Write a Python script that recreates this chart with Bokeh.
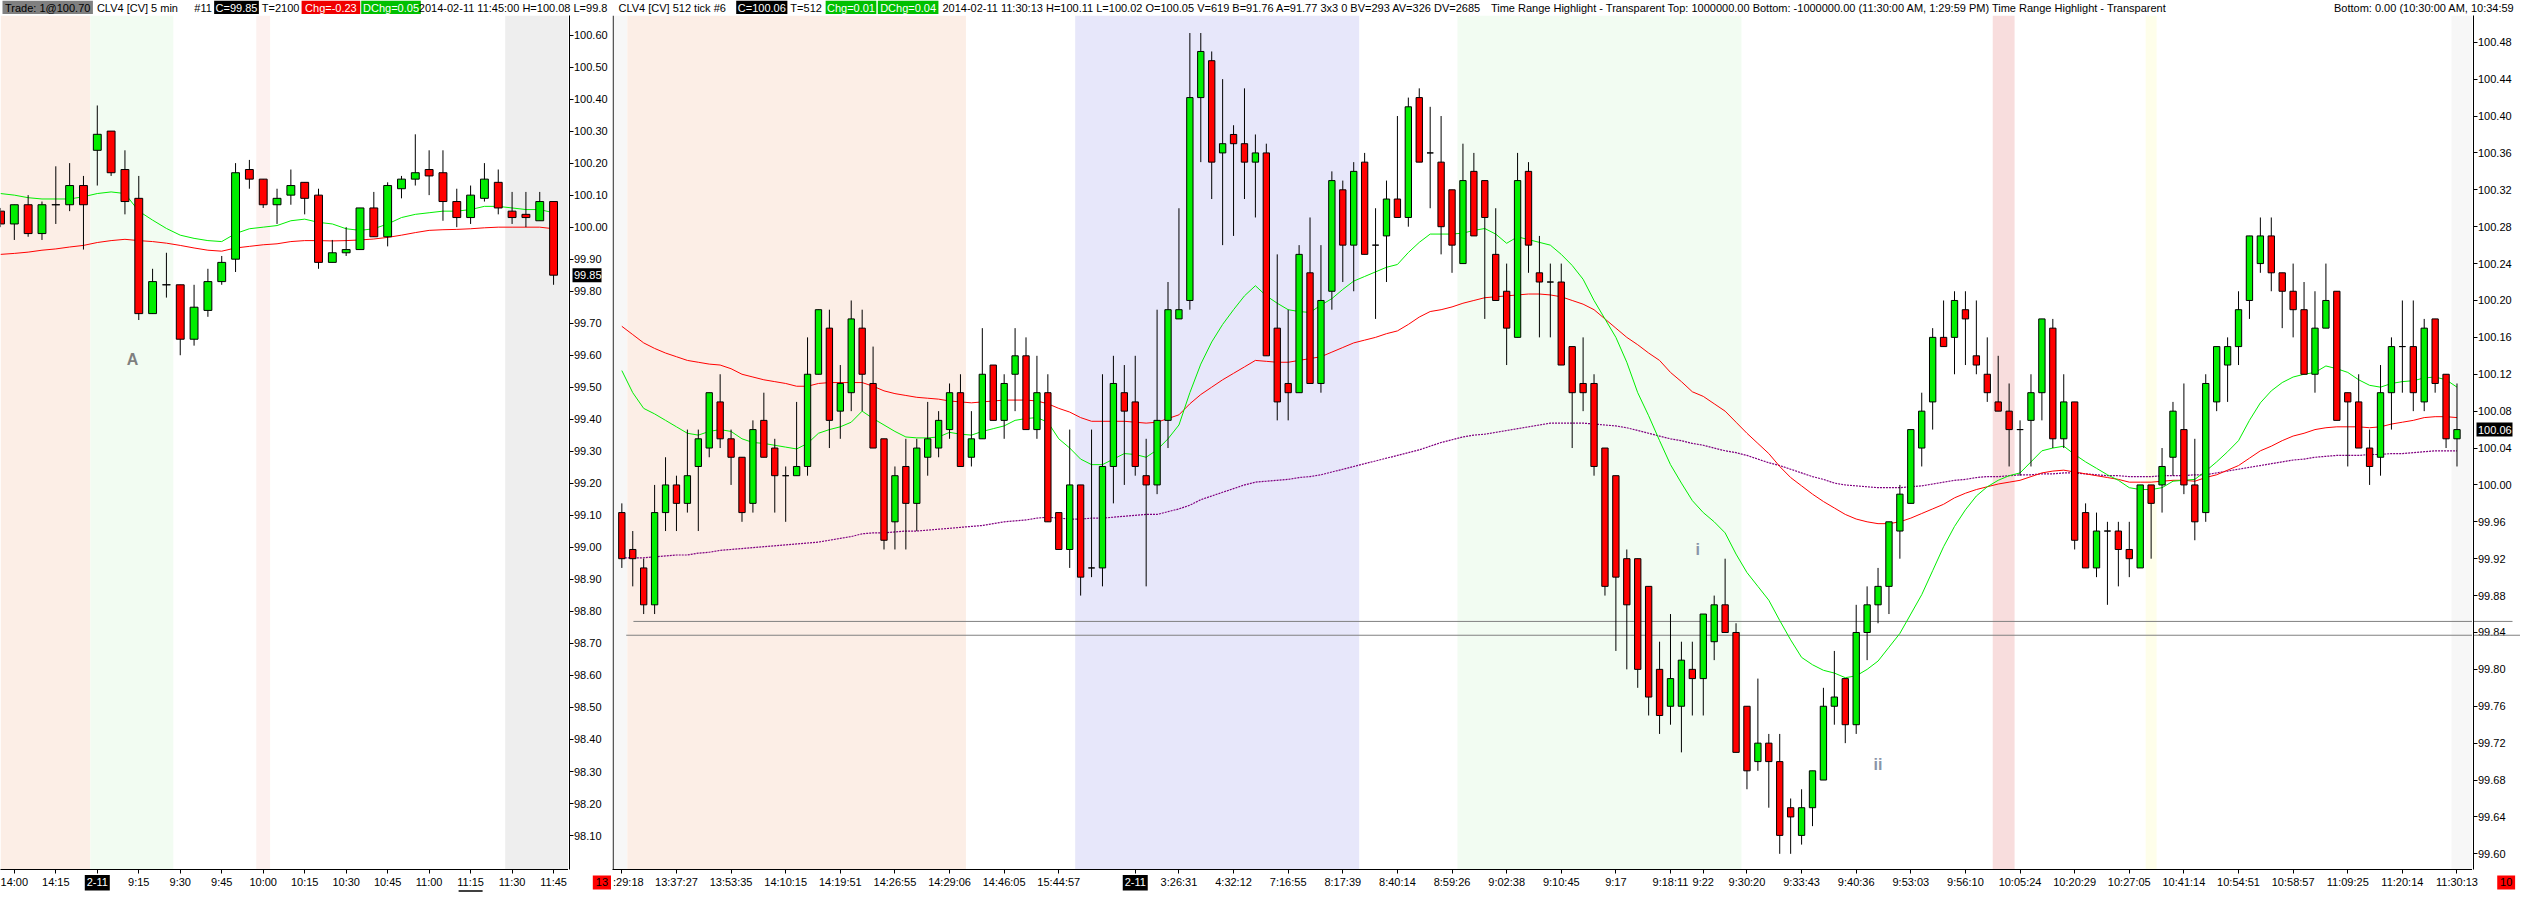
from bokeh.plotting import figure
from bokeh.models import (Range1d, FixedTicker, Span, BoxAnnotation, ColumnDataSource)
from bokeh.layouts import row, column
from bokeh.embed import file_html
from bokeh.resources import INLINE
from bokeh.core.properties import value

# ------------------------------------------------------------------ data
# Left panel: CLV4 [CV] 5 min  (bar index 1..41)
left_open = [100.05, 100.01, 100.07, 99.98, 100.07, 100.07, 100.13, 100.24, 100.30, 100.18,
             100.09, 99.73, 99.82, 99.82, 99.65, 99.74, 99.83, 99.90, 100.18, 100.15,
             100.07, 100.10, 100.14, 100.10, 99.89, 99.92, 99.93, 100.06, 99.97, 100.12,
             100.15, 100.18, 100.17, 100.08, 100.03, 100.09, 100.14, 100.05, 100.04, 100.02, 100.08]
left_high = [100.06, 100.07, 100.10, 100.08, 100.19, 100.20, 100.16, 100.38, 100.30, 100.24,
             100.16, 99.87, 99.92, 99.82, 99.82, 99.87, 99.91, 100.20, 100.21, 100.15,
             100.12, 100.18, 100.14, 100.12, 99.96, 100.00, 100.06, 100.11, 100.14, 100.16,
             100.29, 100.24, 100.24, 100.12, 100.13, 100.20, 100.18, 100.11, 100.11, 100.11, 100.08]
left_low = [100.00, 99.96, 99.97, 99.96, 100.01, 100.05, 99.93, 100.13, 100.16, 100.04,
            99.71, 99.73, 99.78, 99.60, 99.63, 99.72, 99.82, 99.86, 100.12, 100.06,
            100.01, 100.07, 100.04, 99.87, 99.89, 99.91, 99.93, 99.97, 99.94, 100.09,
            100.13, 100.10, 100.02, 100.00, 100.01, 100.08, 100.04, 100.01, 100.00, 100.02, 99.82]
left_close = [100.01, 100.07, 99.98, 100.07, 100.07, 100.13, 100.07, 100.29, 100.17, 100.08,
              99.73, 99.83, 99.82, 99.65, 99.75, 99.83, 99.89, 100.17, 100.15, 100.07,
              100.09, 100.13, 100.09, 99.89, 99.92, 99.93, 100.06, 99.97, 100.13, 100.15,
              100.17, 100.16, 100.08, 100.03, 100.10, 100.15, 100.06, 100.03, 100.03, 100.08, 99.85]
left_ma_fast = [100.105, 100.100, 100.092, 100.088, 100.088, 100.088, 100.095, 100.105, 100.110, 100.105,
                100.050, 100.022, 99.996, 99.975, 99.965, 99.958, 99.955, 99.980, 99.995, 100.000,
                100.005, 100.020, 100.025, 100.015, 100.010, 99.995, 99.990, 99.995, 100.010, 100.030,
                100.040, 100.045, 100.050, 100.050, 100.055, 100.065, 100.065, 100.060, 100.055, 100.055, 100.045]
left_ma_slow = [99.915, 99.918, 99.922, 99.928, 99.932, 99.938, 99.943, 99.952, 99.958, 99.962,
                99.958, 99.955, 99.950, 99.943, 99.935, 99.928, 99.925, 99.935, 99.940, 99.945,
                99.948, 99.955, 99.958, 99.958, 99.957, 99.958, 99.960, 99.963, 99.968, 99.975,
                99.983, 99.990, 99.992, 99.993, 99.995, 99.998, 100.000, 100.000, 100.000, 100.000, 99.995]
left_tick_idx = [2, 5, 11, 14, 17, 20, 23, 26, 29, 32, 35, 38, 41]
left_tick_lbl = ["14:00", "14:15", "9:15", "9:30", "9:45", "10:00", "10:15", "10:30",
                 "10:45", "11:00", "11:15", "11:30", "11:45"]
left_underlined_idx = 35
left_session_idx = 8
left_session_lbl = "2-11"
left_yticks = [98.10, 98.20, 98.30, 98.40, 98.50, 98.60, 98.70, 98.80, 98.90, 99.00,
               99.10, 99.20, 99.30, 99.40, 99.50, 99.60, 99.70, 99.80, 99.90, 100.00,
               100.10, 100.20, 100.30, 100.40, 100.50, 100.60]
left_band_start = [1.0, 7.5, 19.5, 37.5]
left_band_end = [7.5, 13.5, 20.5, 42.1]
left_band_color = ["#FCEEE6", "#F2FCF2", "#FDF1EF", "#EEEEEE"]
left_note_x = [10.55]
left_note_y = [99.588]
left_note_txt = ["A"]

# Right panel: CLV4 [CV] 512 tick  (bar index 1..169)
right_open = [
    99.97, 99.93, 99.91, 99.87, 99.97, 100.00, 99.98, 100.02, 100.04, 100.09,
    100.05, 100.03, 99.98, 100.07, 100.04, 100.01, 100.01, 100.02, 100.12, 100.17,
    100.08, 100.10, 100.17, 100.11, 100.05, 99.96, 100.02, 99.98, 100.03, 100.04,
    100.06, 100.10, 100.03, 100.05, 100.13, 100.07, 100.12, 100.14, 100.06, 100.10,
    99.97, 99.93, 100.00, 99.91, 99.91, 100.02, 100.10, 100.09, 100.01, 100.00,
    100.07, 100.18, 100.20, 100.42, 100.46, 100.36, 100.38, 100.37, 100.35, 100.36,
    100.17, 100.11, 100.10, 100.23, 100.11, 100.21, 100.32, 100.26, 100.35, 100.26,
    100.27, 100.31, 100.29, 100.42, 100.36, 100.35, 100.32, 100.24, 100.34, 100.33,
    100.25, 100.21, 100.16, 100.34, 100.23, 100.22, 100.22, 100.15, 100.11, 100.11,
    100.04, 100.01, 99.92, 99.92, 99.89, 99.80, 99.76, 99.76, 99.80, 99.79,
    99.83, 99.87, 99.84, 99.76, 99.70, 99.72, 99.70, 99.65, 99.62, 99.65,
    99.68, 99.76, 99.79, 99.74, 99.84, 99.87, 99.89, 99.95, 99.98, 100.04,
    100.09, 100.16, 100.16, 100.19, 100.14, 100.12, 100.09, 100.08, 100.06, 100.07,
    100.10, 100.17, 100.05, 100.09, 99.97, 99.91, 99.95, 99.95, 99.93, 99.91,
    100.00, 100.00, 100.03, 100.06, 100.00, 99.97, 100.09, 100.13, 100.15, 100.20,
    100.24, 100.27, 100.23, 100.21, 100.19, 100.12, 100.17, 100.21, 100.10, 100.09,
    100.04, 100.03, 100.10, 100.15, 100.15, 100.09, 100.18, 100.12, 100.05]
right_high = [
    99.98, 99.95, 99.92, 100.00, 100.03, 100.01, 100.06, 100.06, 100.10, 100.12,
    100.06, 100.03, 100.07, 100.10, 100.05, 100.02, 100.09, 100.16, 100.19, 100.19,
    100.13, 100.20, 100.19, 100.15, 100.05, 100.02, 100.05, 100.05, 100.09, 100.08,
    100.11, 100.12, 100.08, 100.17, 100.13, 100.12, 100.17, 100.16, 100.14, 100.12,
    99.97, 100.06, 100.00, 100.06, 100.12, 100.14, 100.13, 100.14, 100.05, 100.19,
    100.22, 100.30, 100.49, 100.49, 100.47, 100.44, 100.39, 100.43, 100.38, 100.37,
    100.25, 100.19, 100.26, 100.29, 100.26, 100.34, 100.33, 100.35, 100.36, 100.30,
    100.33, 100.40, 100.42, 100.43, 100.41, 100.40, 100.32, 100.37, 100.36, 100.33,
    100.30, 100.24, 100.36, 100.35, 100.27, 100.24, 100.24, 100.15, 100.16, 100.12,
    100.04, 100.01, 99.93, 99.92, 99.89, 99.83, 99.86, 99.83, 99.83, 99.86,
    99.88, 99.92, 99.85, 99.76, 99.79, 99.73, 99.73, 99.66, 99.67, 99.69,
    99.78, 99.82, 99.79, 99.87, 99.89, 99.91, 99.96, 100.00, 100.06, 100.10,
    100.17, 100.20, 100.21, 100.21, 100.20, 100.16, 100.14, 100.11, 100.07, 100.12,
    100.18, 100.18, 100.12, 100.09, 99.98, 99.97, 99.96, 99.96, 99.96, 100.00,
    100.00, 100.04, 100.09, 100.11, 100.05, 100.12, 100.15, 100.16, 100.21, 100.27,
    100.29, 100.29, 100.23, 100.24, 100.22, 100.21, 100.24, 100.21, 100.10, 100.12,
    100.06, 100.13, 100.16, 100.20, 100.20, 100.18, 100.18, 100.12, 100.11]
right_low = [
    99.91, 99.89, 99.86, 99.86, 99.95, 99.95, 99.97, 99.95, 100.03, 100.04,
    100.00, 99.96, 99.97, 100.03, 99.97, 99.96, 100.01, 100.01, 100.12, 100.04,
    100.05, 100.08, 100.08, 100.04, 99.93, 99.93, 99.93, 99.95, 100.01, 100.03,
    100.05, 100.02, 100.02, 100.05, 100.07, 100.05, 100.08, 100.06, 100.05, 99.96,
    99.93, 99.91, 99.88, 99.90, 99.89, 99.98, 100.00, 100.01, 99.89, 99.99,
    100.04, 100.18, 100.19, 100.35, 100.31, 100.26, 100.27, 100.31, 100.29, 100.14,
    100.07, 100.07, 100.10, 100.11, 100.10, 100.19, 100.22, 100.21, 100.25, 100.18,
    100.22, 100.29, 100.28, 100.35, 100.30, 100.25, 100.23, 100.24, 100.27, 100.18,
    100.20, 100.13, 100.16, 100.23, 100.16, 100.16, 100.13, 100.04, 100.08, 100.01,
    99.88, 99.82, 99.80, 99.78, 99.75, 99.73, 99.74, 99.71, 99.75, 99.75,
    99.81, 99.84, 99.71, 99.67, 99.69, 99.65, 99.60, 99.60, 99.61, 99.63,
    99.68, 99.74, 99.72, 99.73, 99.81, 99.85, 99.86, 99.92, 99.98, 100.02,
    100.06, 100.15, 100.12, 100.13, 100.12, 100.09, 100.08, 100.02, 100.01, 100.02,
    100.07, 100.04, 100.04, 99.93, 99.91, 99.90, 99.87, 99.89, 99.90, 99.91,
    99.92, 99.97, 100.01, 99.99, 99.94, 99.96, 100.08, 100.09, 100.13, 100.18,
    100.23, 100.21, 100.17, 100.16, 100.12, 100.10, 100.17, 100.07, 100.02, 100.04,
    100.00, 100.01, 100.06, 100.10, 100.08, 100.08, 100.10, 100.04, 100.02]
right_close = [
    99.92, 99.92, 99.87, 99.97, 100.00, 99.98, 100.01, 100.05, 100.10, 100.05,
    100.03, 99.97, 100.06, 100.03, 100.01, 100.01, 100.02, 100.12, 100.19, 100.07,
    100.11, 100.18, 100.12, 100.04, 99.94, 100.01, 99.98, 100.04, 100.05, 100.07,
    100.10, 100.02, 100.05, 100.12, 100.07, 100.11, 100.14, 100.06, 100.10, 99.96,
    99.93, 100.00, 99.90, 99.91, 100.02, 100.11, 100.08, 100.02, 100.00, 100.07,
    100.19, 100.19, 100.42, 100.47, 100.35, 100.37, 100.37, 100.35, 100.36, 100.14,
    100.09, 100.10, 100.25, 100.11, 100.20, 100.33, 100.26, 100.34, 100.25, 100.26,
    100.31, 100.29, 100.41, 100.35, 100.36, 100.28, 100.26, 100.33, 100.27, 100.29,
    100.20, 100.17, 100.33, 100.26, 100.22, 100.22, 100.13, 100.10, 100.10, 100.02,
    99.89, 99.90, 99.87, 99.80, 99.77, 99.75, 99.79, 99.81, 99.79, 99.86,
    99.87, 99.84, 99.71, 99.69, 99.72, 99.70, 99.62, 99.64, 99.65, 99.69,
    99.76, 99.77, 99.74, 99.84, 99.87, 99.89, 99.96, 99.99, 100.06, 100.08,
    100.16, 100.15, 100.20, 100.18, 100.13, 100.10, 100.08, 100.06, 100.06, 100.10,
    100.18, 100.05, 100.09, 99.94, 99.91, 99.95, 99.95, 99.93, 99.92, 100.00,
    99.98, 100.02, 100.08, 100.00, 99.96, 100.11, 100.15, 100.15, 100.19, 100.27,
    100.27, 100.23, 100.21, 100.19, 100.12, 100.17, 100.20, 100.07, 100.09, 100.04,
    100.02, 100.10, 100.15, 100.15, 100.10, 100.17, 100.11, 100.05, 100.06]
right_ma_fast = [
    100.124, 100.100, 100.083, 100.077, 100.070, 100.063, 100.056, 100.054, 100.058, 100.060,
    100.058, 100.050, 100.046, 100.045, 100.043, 100.041, 100.039, 100.045, 100.056, 100.060,
    100.063, 100.068, 100.080, 100.072, 100.065, 100.058, 100.052, 100.051, 100.051, 100.052,
    100.057, 100.055, 100.054, 100.058, 100.061, 100.064, 100.070, 100.072, 100.073, 100.068,
    100.050, 100.040, 100.028, 100.022, 100.022, 100.028, 100.034, 100.033, 100.030, 100.038,
    100.050, 100.065, 100.100, 100.131, 100.155, 100.174, 100.190, 100.205, 100.216, 100.205,
    100.197, 100.190, 100.188, 100.187, 100.195, 100.202, 100.212, 100.221, 100.226, 100.231,
    100.236, 100.239, 100.252, 100.263, 100.272, 100.272, 100.272, 100.273, 100.276, 100.278,
    100.272, 100.262, 100.269, 100.266, 100.263, 100.260, 100.250, 100.238, 100.223, 100.200,
    100.180, 100.160, 100.133, 100.100, 100.075, 100.048, 100.022, 100.002, 99.983, 99.970,
    99.960, 99.948, 99.925, 99.905, 99.890, 99.875, 99.853, 99.832, 99.813, 99.805,
    99.799, 99.796, 99.791, 99.793, 99.800, 99.809, 99.824, 99.839, 99.860, 99.881,
    99.907, 99.933, 99.955, 99.973, 99.988, 99.998, 100.005, 100.010, 100.013, 100.025,
    100.037, 100.040, 100.042, 100.033, 100.025, 100.018, 100.011, 100.005, 99.997, 99.995,
    99.995, 99.997, 100.004, 100.005, 100.006, 100.015, 100.025, 100.036, 100.048, 100.070,
    100.089, 100.102, 100.111, 100.117, 100.120, 100.122, 100.129, 100.126, 100.122, 100.114,
    100.108, 100.106, 100.110, 100.112, 100.113, 100.116, 100.117, 100.114, 100.106]
right_ma_mid = [
    100.172, 100.163, 100.154, 100.148, 100.143, 100.139, 100.135, 100.133, 100.131, 100.130,
    100.126, 100.120, 100.117, 100.114, 100.112, 100.110, 100.107, 100.107, 100.110, 100.111,
    100.111, 100.111, 100.111, 100.107, 100.102, 100.099, 100.097, 100.095, 100.094, 100.093,
    100.091, 100.090, 100.089, 100.090, 100.091, 100.092, 100.092, 100.092, 100.091, 100.088,
    100.083, 100.079, 100.073, 100.069, 100.069, 100.069, 100.069, 100.068, 100.067, 100.068,
    100.072, 100.076, 100.088, 100.098, 100.106, 100.114, 100.121, 100.128, 100.135, 100.134,
    100.133, 100.133, 100.135, 100.137, 100.139, 100.144, 100.149, 100.154, 100.157, 100.160,
    100.164, 100.167, 100.174, 100.182, 100.188, 100.190, 100.193, 100.197, 100.200, 100.203,
    100.204, 100.205, 100.206, 100.207, 100.207, 100.206, 100.204, 100.200, 100.196, 100.190,
    100.180, 100.170, 100.160, 100.152, 100.143, 100.135, 100.122, 100.112, 100.101, 100.096,
    100.088, 100.080, 100.068, 100.056, 100.045, 100.034, 100.020, 100.008, 99.999, 99.990,
    99.982, 99.975, 99.968, 99.963, 99.960, 99.958, 99.958, 99.960, 99.964, 99.969,
    99.974, 99.979, 99.986, 99.991, 99.995, 99.998, 100.001, 100.003, 100.005, 100.009,
    100.013, 100.015, 100.016, 100.014, 100.012, 100.010, 100.008, 100.006, 100.003, 100.003,
    100.003, 100.004, 100.005, 100.005, 100.004, 100.008, 100.011, 100.016, 100.021, 100.029,
    100.037, 100.042, 100.048, 100.053, 100.056, 100.060, 100.062, 100.063, 100.063, 100.063,
    100.062, 100.063, 100.066, 100.068, 100.070, 100.073, 100.074, 100.074, 100.073]
right_ma_slow = [
    99.921, 99.921, 99.921, 99.922, 99.923, 99.924, 99.924, 99.926, 99.927, 99.929,
    99.930, 99.931, 99.932, 99.933, 99.934, 99.935, 99.936, 99.937, 99.938, 99.940,
    99.942, 99.944, 99.947, 99.948, 99.948, 99.949, 99.950, 99.950, 99.951, 99.952,
    99.953, 99.954, 99.955, 99.956, 99.958, 99.960, 99.961, 99.962, 99.964, 99.965,
    99.964, 99.963, 99.963, 99.964, 99.964, 99.965, 99.966, 99.967, 99.968, 99.968,
    99.971, 99.974, 99.978, 99.984, 99.988, 99.992, 99.996, 100.000, 100.003, 100.004,
    100.005, 100.006, 100.008, 100.009, 100.011, 100.014, 100.017, 100.020, 100.023, 100.026,
    100.029, 100.032, 100.035, 100.038, 100.042, 100.046, 100.049, 100.052, 100.054, 100.055,
    100.057, 100.059, 100.061, 100.063, 100.065, 100.067, 100.067, 100.067, 100.067, 100.066,
    100.065, 100.064, 100.062, 100.059, 100.056, 100.053, 100.050, 100.048, 100.045, 100.043,
    100.040, 100.037, 100.035, 100.032, 100.028, 100.024, 100.021, 100.017, 100.013, 100.009,
    100.006, 100.002, 100.000, 99.999, 99.998, 99.997, 99.997, 99.997, 99.998, 99.999,
    100.001, 100.003, 100.005, 100.006, 100.008, 100.009, 100.009, 100.010, 100.011, 100.011,
    100.012, 100.012, 100.013, 100.013, 100.012, 100.011, 100.010, 100.010, 100.009, 100.009,
    100.009, 100.010, 100.010, 100.010, 100.011, 100.011, 100.013, 100.015, 100.017, 100.019,
    100.021, 100.023, 100.025, 100.027, 100.028, 100.030, 100.031, 100.032, 100.032, 100.032,
    100.033, 100.033, 100.034, 100.034, 100.035, 100.036, 100.037, 100.037, 100.037]
right_tick_idx = [6, 11, 16, 21, 26, 31, 36, 41, 52, 57, 62, 67, 72, 77, 82, 87, 92, 97,
                  100, 104, 109, 114, 119, 124, 129, 134, 139, 144, 149, 154, 159, 164, 169]
right_tick_lbl = ["13:37:27", "13:53:35", "14:10:15", "14:19:51", "14:26:55", "14:29:06",
                  "14:46:05", "15:44:57", "3:26:31", "4:32:12", "7:16:55", "8:17:39",
                  "8:40:14", "8:59:26", "9:02:38", "9:10:45", "9:17", "9:18:11", "9:22",
                  "9:30:20", "9:33:43", "9:40:36", "9:53:03", "9:56:10", "10:05:24",
                  "10:20:29", "10:27:05", "10:41:14", "10:54:51", "10:58:57", "11:09:25",
                  "11:20:14", "11:30:13"]
right_first_idx = 1
right_first_hour = "13"
right_first_rest = ":29:18"
right_next_hour = "10"
right_session_idx = 48
right_session_lbl = "2-11"
right_yticks = [99.60, 99.64, 99.68, 99.72, 99.76, 99.80, 99.84, 99.88, 99.92, 99.96,
                100.00, 100.04, 100.08, 100.12, 100.16, 100.20, 100.24, 100.28, 100.32,
                100.36, 100.40, 100.44, 100.48]
right_band_start = [0.1, 1.5, 42.5, 77.5, 126.5, 140.5, 168.5]
right_band_end = [1.5, 32.5, 68.5, 103.5, 128.5, 141.5, 170.5]
right_band_color = ["#F7F7F7", "#FCEEE6", "#E7E7FA", "#F2FCF2", "#F8DDDD", "#FEFEEA", "#F7F7F7"]
right_hline_price = [99.852, 99.837]
right_hline_from = [2.06, 1.4]
right_hline_axis_reach = [39, 47]     # how far the two levels run into the price column (px)
right_note_x = [99.5, 116.0]
right_note_y = [99.930, 99.697]
right_note_txt = ["i", "ii"]

# header texts: (text, x, align, box colour, box from, box to, text colour)
left_hdr = [("Trade: 1@100.70", None, "center", "#808080", 2, 93, "black"),
            ("CLV4 [CV]  5 min", 97, "left", None, 0, 0, "black"),
            ("#11", 195, "left", None, 0, 0, "black"),
            ("C=99.85", None, "center", "black", 215, 260, "white"),
            ("T=2100", 263, "left", None, 0, 0, "black"),
            ("Chg=-0.23", None, "center", "#F00000", 303, 362, "white"),
            ("DChg=0.05", None, "center", "#00C000", 363, 423, "white"),
            ("2014-02-11 11:45:00 H=100.08 L=99.8", 421, "left", None, 0, 0, "black")]
right_hdr = [("CLV4 [CV]  512 tick  #6", 622, "left", None, 0, 0, "black"),
             ("C=100.06", None, "center", "black", 740.5, 792, "white"),
             ("T=512", 795, "left", None, 0, 0, "black"),
             ("Chg=0.01", None, "center", "#00C000", 830.5, 881.5, "white"),
             ("DChg=0.04", None, "center", "#00C000", 883, 944, "white"),
             ("2014-02-11 11:30:13 H=100.11 L=100.02 O=100.05 V=619 B=91.76 A=91.77 3x3 0 "
              "BV=293 AV=326 DV=2685", 948, "left", None, 0, 0, "black"),
             ("Time Range Highlight - Transparent  Top: 1000000.00  Bottom: -1000000.00  "
              "(11:30:00 AM, 1:29:59 PM)  Time Range Highlight - Transparent",
              1500, "left", None, 0, 0, "black"),
             ("Bottom: 0.00  (10:30:00 AM, 10:34:59", 2533, "right", None, 0, 0, "black")]

# ------------------------------------------------------------------ layout constants
FONT = "Liberation Sans"
SX = 2520 / 2536
HDR_H = 15
BOT_H = 18
MAIN_H = 892 - HDR_H - BOT_H
MAIN_BOT = 5
FRAME_H = MAIN_H - MAIN_BOT
LW, LYW = 612, 44      # left panel width, width of its price-axis column
RW, RYW = 1908, 48     # right panel width, width of its price-axis column
GREEN, RED = "#00EE00", "#FF0000"
LAB_Y = 10.3


def plain(p):
    p.xgrid.visible = False
    p.ygrid.visible = False
    p.outline_line_color = None
    return p


def main_fig(width, xr, yr):
    p = plain(figure(width=width, height=MAIN_H, x_range=xr, y_range=yr,
                     output_backend="svg", toolbar_location=None, y_axis_location=None,
                     min_border_left=0, min_border_right=0, min_border_top=0,
                     min_border_bottom=MAIN_BOT, title=None))
    ax = p.xaxis[0]
    ax.axis_line_color = "black"
    ax.major_tick_line_color = "black"
    ax.major_tick_out = 4
    ax.major_tick_in = 0
    ax.minor_tick_line_color = None
    # time labels are set in the strip underneath (they carry coloured boxes)
    ax.major_label_text_font_size = "0px"
    ax.major_label_text_color = None
    ax.major_label_text_alpha = 0
    ax.major_label_standoff = 0
    return p


def price_axis_fig(width, yr, ticks, last_price, box_to):
    """Price scale column: a real y axis (line + ticks) with the labels and the
    last-price marker set beside it on the same y scale."""
    p = plain(figure(width=width, height=MAIN_H, x_range=Range1d(0, width - 1), y_range=yr,
                     output_backend="svg", toolbar_location=None, x_axis_location=None,
                     y_axis_location="left", min_border_left=1, min_border_right=0,
                     min_border_top=0, min_border_bottom=MAIN_BOT, title=None))
    ax = p.yaxis[0]
    ax.ticker = FixedTicker(ticks=ticks)
    ax.axis_line_color = "black"
    ax.major_tick_line_color = "black"
    ax.major_tick_in = 4
    ax.major_tick_out = 0
    ax.minor_tick_line_color = None
    ax.major_label_text_font_size = "0px"
    ax.major_label_text_color = None
    ax.major_label_text_alpha = 0
    ax.major_label_standoff = 0
    p.text(x=[4.5] * len(ticks), y=ticks, text=[f"{t:.2f}" for t in ticks],
           text_font=value(FONT), text_font_size="11px", text_color="black",
           text_align="left", text_baseline="middle")
    half = 7.0 * (yr.end - yr.start) / FRAME_H
    p.quad(left=[3], right=[box_to], bottom=[last_price - half], top=[last_price + half],
           fill_color="black", line_color=None)
    p.text(x=[4.5], y=[last_price], text=[f"{last_price:.2f}"], text_font=value(FONT),
           text_font_size="11px", text_color="white", text_align="left",
           text_baseline="middle")
    return p


def strip_fig(width, height, xr):
    return plain(figure(width=width, height=height, x_range=Range1d(*xr),
                        y_range=Range1d(0, height), output_backend="svg",
                        toolbar_location=None, x_axis_location=None, y_axis_location=None,
                        min_border_left=0, min_border_right=0, min_border_top=0,
                        min_border_bottom=0, title=None))


def bands(p, starts, ends, colors):
    for a, b, c in zip(starts, ends, colors):
        p.add_layout(BoxAnnotation(left=a, right=b, fill_color=c, fill_alpha=1.0,
                                   line_color=None, level="underlay"))


def candles(p, o, h, l, c, bw):
    x = list(range(1, len(o) + 1))
    cols = [GREEN if cc > oo else (RED if cc < oo else "black") for oo, cc in zip(o, c)]
    src = ColumnDataSource(dict(x=x, h=h, l=l,
                                top=[max(a, b) for a, b in zip(o, c)],
                                bot=[min(a, b) for a, b in zip(o, c)], col=cols))
    p.segment(x0="x", y0="h", x1="x", y1="l", source=src, line_color="black", line_width=1)
    p.vbar(x="x", width=bw, top="top", bottom="bot", fill_color="col",
           line_color="black", line_width=1, source=src)


def gtext(p, x, y, t, color="black", align="left", size="11px"):
    p.text(x=[x], y=[y], text=[t], text_font=value(FONT), text_font_size=size,
           text_color=color, text_align=align, text_baseline="middle")


def header(width, items, offset):
    h = strip_fig(width, HDR_H, (0, width))
    for t, x, align, bg, b0, b1, col in items:
        if bg is not None:
            a, b = (b0 - offset) * SX, (b1 - offset) * SX
            h.quad(left=[a], right=[b], bottom=[1.5], top=[HDR_H], fill_color=bg,
                   line_color=None)
            gtext(h, (a + b) / 2, 7.5, t, color=col, align="center")
        else:
            gtext(h, (x - offset) * SX, 7.5, t, color=col, align=align)
    return h


# ------------------------------------------------------------------ left panel
nL = len(left_open)
lx0, lx1 = 1.0, 42.08
l_xr = Range1d(lx0, lx1)
l_yr = Range1d(97.994, 100.661)
lp = main_fig(LW - LYW, l_xr, l_yr)
bands(lp, left_band_start, left_band_end, left_band_color)
xl = list(range(1, nL + 1))
lp.line(xl, left_ma_slow, line_color=RED, line_width=1)
lp.line(xl, left_ma_fast, line_color=GREEN, line_width=1)
candles(lp, left_open, left_high, left_low, left_close, 0.57)
lp.text(x=left_note_x, y=left_note_y, text=left_note_txt, text_font=value(FONT),
        text_font_size="16px", text_font_style="bold", text_color="#7F7F7F",
        text_align="center", text_baseline="middle")
lp.xaxis[0].ticker = FixedTicker(ticks=left_tick_idx + [left_session_idx])
ly = price_axis_fig(LYW, l_yr, left_yticks, left_close[-1], 32)

l_ppu = (LW - LYW) / (lx1 - lx0)
lb = strip_fig(LW, BOT_H, (lx0, lx0 + LW / l_ppu))
lb.text(x=left_tick_idx, y=[LAB_Y] * len(left_tick_idx), text=left_tick_lbl,
        text_font=value(FONT), text_font_size="11px", text_color="black",
        text_align="center", text_baseline="middle")
hw = 12.5 / l_ppu
lb.quad(left=[left_session_idx - hw], right=[left_session_idx + hw], bottom=[2], top=[17.5],
        fill_color="black", line_color=None)
gtext(lb, left_session_idx, LAB_Y, left_session_lbl, color="white", align="center")
lb.segment(x0=[left_underlined_idx - 12 / l_ppu], x1=[left_underlined_idx + 12 / l_ppu],
           y0=[1.5], y1=[1.5], line_color="black", line_width=1.5)
# red hour box of the right panel's first time label sits left of the right panel
hb0, hb1 = lx0 + 592.3 / l_ppu, lx0 + 610.5 / l_ppu
lb.quad(left=[hb0], right=[hb1], bottom=[3], top=[17], fill_color="#FF0000", line_color=None)
gtext(lb, (hb0 + hb1) / 2, LAB_Y, right_first_hour, align="center")

lh = header(LW, left_hdr, 0)

# ------------------------------------------------------------------ right panel
nR = len(right_open)
rx0, rx1 = 0.145, 170.42
r_xr = Range1d(rx0, rx1)
r_yr = Range1d(99.583, 100.509)
rp = main_fig(RW - RYW, r_xr, r_yr)
bands(rp, right_band_start, right_band_end, right_band_color)
rp.segment(x0=right_hline_from, y0=right_hline_price, x1=[rx1] * len(right_hline_price),
           y1=right_hline_price, line_color="#808080", line_width=1)
xr = list(range(1, nR + 1))
rp.line(xr, right_ma_slow, line_color="#800080", line_width=1.2, line_dash="2 1")
rp.line(xr, right_ma_mid, line_color=RED, line_width=1)
rp.line(xr, right_ma_fast, line_color=GREEN, line_width=1)
candles(rp, right_open, right_high, right_low, right_close, 0.58)
rp.text(x=right_note_x, y=right_note_y, text=right_note_txt, text_font=value(FONT),
        text_font_size="16px", text_font_style="bold", text_color="#8A94A8",
        text_align="center", text_baseline="middle")
rp.add_layout(Span(location=rx0 + 0.06, dimension="height", line_color="black", line_width=1))
rp.xaxis[0].ticker = FixedTicker(ticks=[right_first_idx, right_session_idx] + right_tick_idx)
ry = price_axis_fig(RYW, r_yr, right_yticks, right_close[-1], 39)
ry.segment(x0=[0] * len(right_hline_price), y0=right_hline_price, x1=right_hline_axis_reach,
           y1=right_hline_price, line_color="#808080", line_width=1)

r_ppu = (RW - RYW) / (rx1 - rx0)
rb = strip_fig(RW, BOT_H, (rx0, rx0 + RW / r_ppu))
rb.text(x=right_tick_idx, y=[LAB_Y] * len(right_tick_idx), text=right_tick_lbl,
        text_font=value(FONT), text_font_size="11px", text_color="black",
        text_align="center", text_baseline="middle")
gtext(rb, rx0 + 0.05, LAB_Y, right_first_rest, align="left")
hw = 12.5 / r_ppu
rb.quad(left=[right_session_idx - hw], right=[right_session_idx + hw], bottom=[2], top=[17.5],
        fill_color="black", line_color=None)
gtext(rb, right_session_idx, LAB_Y, right_session_lbl, color="white", align="center")
nb0, nb1 = rx0 + (2512.7 - 616) * SX / r_ppu, rx0 + (2530.7 - 616) * SX / r_ppu
rb.quad(left=[nb0], right=[nb1], bottom=[3], top=[17], fill_color="#FF0000", line_color=None)
gtext(rb, (nb0 + nb1) / 2, LAB_Y, right_next_hour, align="center")

rh = header(RW, right_hdr, 616)

left_col = column(lh, row(lp, ly, spacing=0), lb, spacing=0)
right_col = column(rh, row(rp, ry, spacing=0), rb, spacing=0)
layout = row(left_col, right_col, spacing=0)
open("out.html", "w").write(file_html(layout, INLINE))
